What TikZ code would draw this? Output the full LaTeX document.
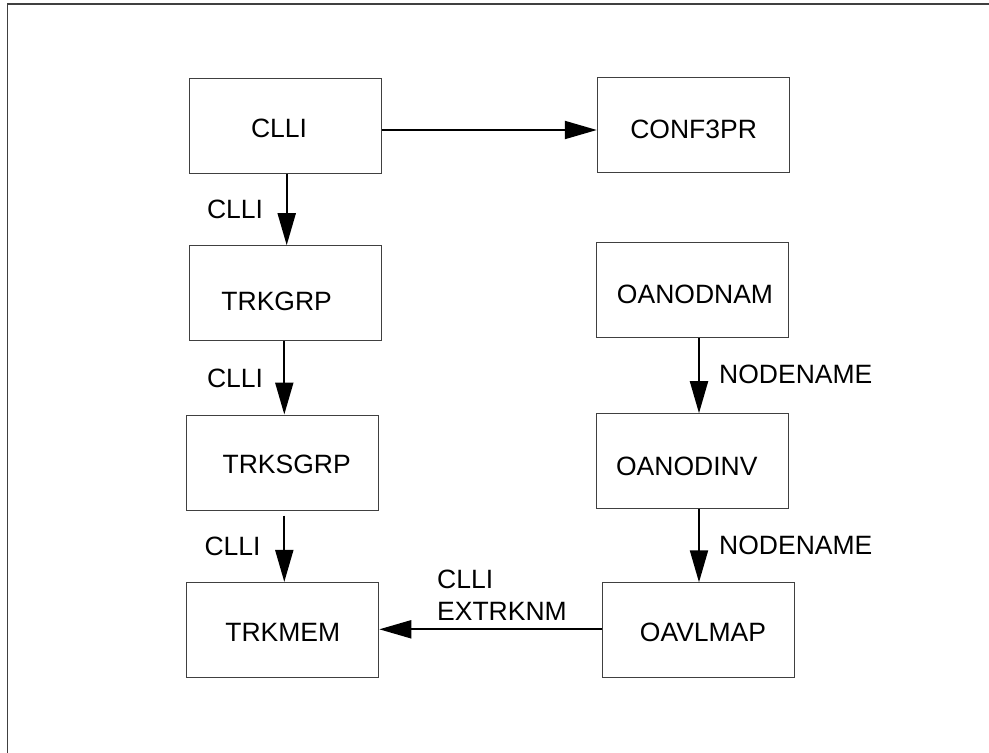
\documentclass[tikz,border=0pt]{standalone}
\usepackage{fontspec}
\setmainfont{Liberation Sans}
\usetikzlibrary{arrows.meta}
\begin{document}
\begin{tikzpicture}[x=1pt,y=-1pt,
  box/.style={draw=black!75, line width=1pt, minimum width=192pt, minimum height=95pt, inner sep=0pt},
  lbl/.style={font=\fontsize{26.5}{32}\selectfont, inner sep=0pt},
  arr/.style={line width=2pt, -{Triangle[length=32pt,width=18pt]}}]
\useasboundingbox (0,0) rectangle (989,753);
\draw[black!75, line width=1.2pt] (7.5,4) rectangle (1100,900);

\node[box, label={[lbl,xshift=-6.3pt,yshift=-2.5pt]center:CLLI}] (clli) at (285.3,125.5) {};
\node[box, label={[lbl,xshift=0.3pt,yshift=-5pt]center:CONF3PR}] (conf) at (693.3,124.8) {};
\node[box, label={[lbl,xshift=-8.3pt,yshift=-7.8pt]center:TRKGRP}] (trkgrp) at (285,293.2) {};
\node[box, label={[lbl,xshift=3.9pt,yshift=-2pt]center:TRKSGRP}] (trksgrp) at (282.8,462.5) {};
\node[box, label={[lbl,xshift=0pt,yshift=-2.7pt]center:TRKMEM}] (trkmem) at (282.8,629.9) {};
\node[box, label={[lbl,xshift=2.2pt,yshift=-4.3pt]center:OANODNAM}] (oanodnam) at (692.8,289.7) {};
\node[box, label={[lbl,xshift=-6pt,yshift=-4.8pt]center:OANODINV}] (oanodinv) at (692.8,461.2) {};
\node[box, label={[lbl,xshift=5pt,yshift=-2pt]center:OAVLMAP}] (oavlmap) at (698,630.3) {};

\draw[arr] ([yshift=-4.5pt]clli.east) -- ([yshift=-4.5pt]clli.east -| conf.west);
\draw[arr] ([xshift=1.4pt]clli.south) -- ([xshift=1.4pt]clli.south |- trkgrp.north);
\draw[arr] ([xshift=-0.7pt]trkgrp.south) -- ([xshift=-0.7pt]trkgrp.south |- trksgrp.north);
\draw[arr] ([xshift=1.5pt,yshift=-5pt]trksgrp.south) -- ([xshift=1.5pt]trksgrp.south |- trkmem.north);
\draw[arr] ([xshift=6.2pt]oanodnam.south) -- ([xshift=6.2pt]oanodnam.south |- oanodinv.north);
\draw[arr] ([xshift=6.2pt]oanodinv.south) -- ([xshift=6.2pt]oanodinv.south |- oavlmap.north);
\draw[arr] ([yshift=1pt]oavlmap.west) -- ([yshift=1pt]oavlmap.west -| trkmem.east);

\node[lbl] (l1) at (235,209.5) {CLLI};
\node[lbl] (l2) at (235,378) {CLLI};
\node[lbl] (l3) at (232.5,546.3) {CLLI};
\node[lbl, anchor=west] (l4) at (719,374) {NODENAME};
\node[lbl, anchor=west] (l5) at (719,545) {NODENAME};
\node[lbl, anchor=base west] (l6) at (437,588) {CLLI};
\node[lbl, anchor=base west] (l7) at (437,620) {EXTRKNM};
\end{tikzpicture}
\end{document}
